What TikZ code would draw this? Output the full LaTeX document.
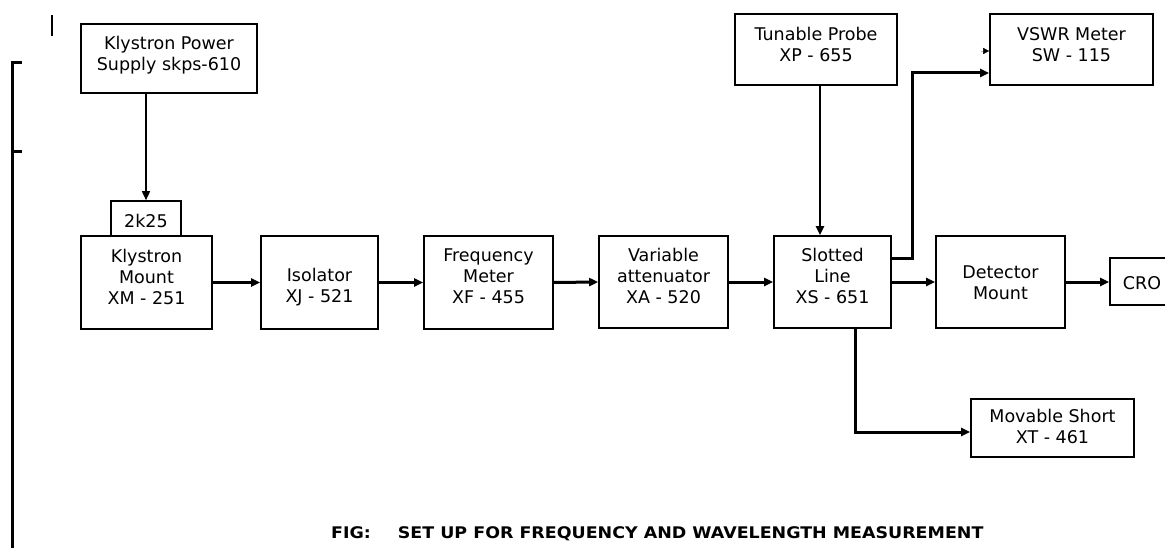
\documentclass[tikz,border=0pt]{standalone}
\usepackage{fontspec}
\setmainfont{DejaVu Sans}
\newfontfamily\capfont{DejaVu Sans}[FakeStretch=1.09]
\usetikzlibrary{arrows.meta,calc}

\tikzset{
  unit/.style={draw, line width=1.6pt, inner sep=0pt, fill=white},
  lbl/.style={align=center, inner sep=0pt, font=\fontsize{17.5}{21}\selectfont},
  tip/.style={-{Triangle[length=9pt,width=8pt]}},
  link/.style={line width=3pt, tip},
  feed/.style={line width=1.6pt, tip},
}

\begin{document}
\begin{tikzpicture}[x=1pt, y=-1pt]
\useasboundingbox (0,0) rectangle (1165,548);

% bracket along the left margin
\draw[line width=3pt] (22,63) -- (12,63) -- (12,560);
\draw[line width=3pt] (12,152) -- (22,152);
\draw[line width=2.4pt] (52,15) -- (52,36);

% equipment blocks
\node[unit, minimum width=176pt, minimum height=69pt] (ps)   at (169,58.5)   {};
\node[unit, minimum width=70pt,  minimum height=36pt] (tube) at (146,219)    {};
\node[unit, minimum width=131pt, minimum height=93pt] (km)   at (146.5,282.5) {};
\node[unit, minimum width=117pt, minimum height=93pt] (iso)  at (319.5,282.5) {};
\node[unit, minimum width=129pt, minimum height=93pt] (fm)   at (488.5,282.5) {};
\node[unit, minimum width=129pt, minimum height=92pt] (va)   at (663.5,282)   {};
\node[unit, minimum width=117pt, minimum height=92pt] (sl)   at (832.5,282)   {};
\node[unit, minimum width=129pt, minimum height=92pt] (dm)   at (1000.5,282)  {};
\node[unit, minimum width=70pt,  minimum height=47pt] (cro)  at (1145,281.5)  {};
\node[unit, minimum width=162pt, minimum height=71pt] (tp)   at (816,49.5)    {};
\node[unit, minimum width=163pt, minimum height=71pt] (vswr) at (1071.5,49.5) {};
\node[unit, minimum width=163pt, minimum height=58pt] (ms)   at (1052.5,428)  {};

% block texts
\node[lbl] (psT)   at ($(ps)+(0,-3)$)     {Klystron Power\\Supply skps-610};
\node[lbl] (tubeT) at ($(tube)+(0,2)$)    {2k25};
\node[lbl] (kmT)   at ($(km)+(0,-5.5)$)   {Klystron\\Mount\\XM - 251};
\node[lbl] (isoT)  at ($(iso)+(0,4.5)$)   {Isolator\\XJ - 521};
\node[lbl] (fmT)   at ($(fm)+(0,-6.5)$)   {Frequency\\Meter\\XF - 455};
\node[lbl] (vaT)   at ($(va)+(0,-6)$)     {Variable\\attenuator\\XA - 520};
\node[lbl] (slT)   at ($(sl)+(0,-6)$)     {Slotted\\Line\\XS - 651};
\node[lbl] (dmT)   at ($(dm)+(0,1)$)      {Detector\\Mount};
\node[lbl] (croT)  at ($(cro)+(-3,1.5)$)  {CRO};
\node[lbl] (tpT)   at ($(tp)+(0,-5)$)     {Tunable Probe\\XP - 655};
\node[lbl] (vswrT) at ($(vswr)+(0,-5)$)   {VSWR Meter\\SW - 115};
\node[lbl] (msT)   at ($(ms)+(0,-2)$)     {Movable Short\\XT - 461};

% signal path
\draw[feed] (tube.north |- ps.south) -- (tube.north);
\draw[link] (km.east)  -- (iso.west);
\draw[link] (iso.east) -- (fm.west);
\draw[link] (fm.east)  -- (va.west);
\draw[link] (va.east)  -- (sl.west);
\draw[link] (sl.east)  -- (dm.west);
\draw[link] (dm.east)  -- (dm.east -| cro.west);
\draw[line width=2.4pt, tip]
  ([xshift=4pt]tp.south) -- ([xshift=4pt]tp.south |- sl.north);
\draw[link] ([yshift=23pt]sl.east) -- ++(21,0) |- ([yshift=-23.5pt]vswr.west);
\coordinate (stub) at (981,51);
\draw[line width=0.3pt, black!30, -{Triangle[length=6pt,width=6pt,black]}] (stub) -- (stub -| vswr.west);
\draw[link] ([xshift=22.5pt]sl.south) |- ([yshift=-4pt]ms.west);

% caption
\node[anchor=base west, inner sep=0pt, font=\capfont\bfseries\fontsize{16}{19}\selectfont] (cap)
  at (331,538) {FIG:\hspace{27pt}SET UP FOR FREQUENCY AND WAVELENGTH MEASUREMENT};
\end{tikzpicture}
\end{document}
